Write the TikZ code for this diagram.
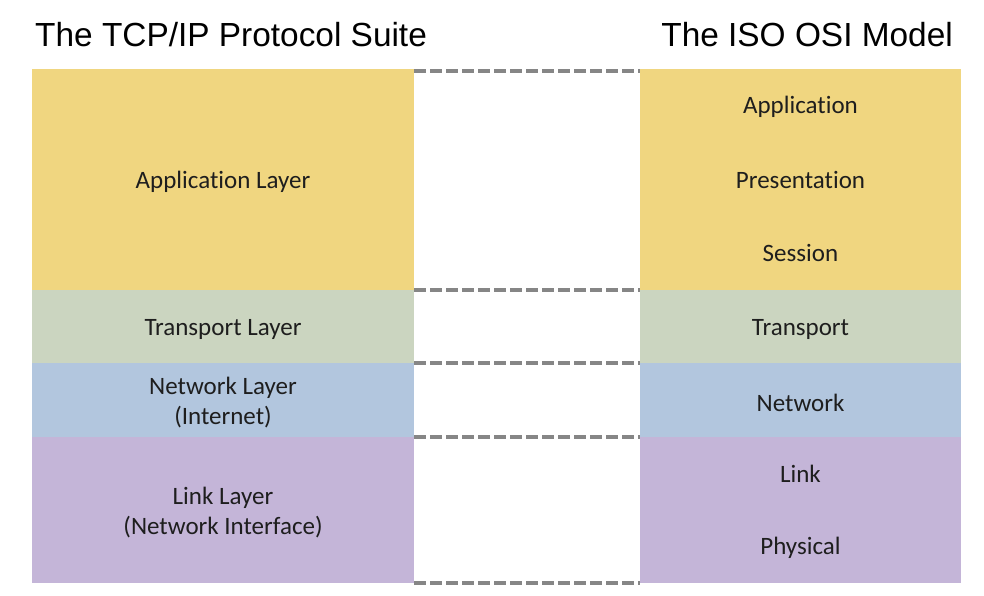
\documentclass[tikz,border=0pt]{standalone}
\usepackage{fontspec}
\setmainfont{Carlito}[RawFeature=-liga]
\newfontfamily\titlefont{Liberation Sans}
\usepackage{tikz}
\usetikzlibrary{calc}
\definecolor{appyellow}{RGB}{240,214,128}
\definecolor{transgreen}{RGB}{203,213,192}
\definecolor{netblue}{RGB}{178,198,222}
\definecolor{linkpurple}{RGB}{196,181,216}
\definecolor{txtgray}{RGB}{30,30,30}
\tikzstyle{lay} = [rectangle, inner sep=0pt]
\tikzstyle{lbl} = [align=center, text=txtgray, yshift=-2.5pt, font=\fontsize{25}{29.5}\selectfont]
\tikzstyle{ttl} = [inner sep=0pt, font=\titlefont\fontsize{33.4}{38}\selectfont]
\tikzstyle{match} = [draw=gray!95, line width=3.5pt, dash pattern=on 11.5pt off 4.5pt]

\begin{document}
\begin{tikzpicture}[x=1pt,y=-1pt]
				\useasboundingbox (0,0) rectangle (984,596);
				\node[ttl, anchor=base west] (tcp) at (35,47) {The TCP/IP Protocol Suite};
				\node[ttl, anchor=base east] (osi) at (953,47) {The ISO OSI Model};
				%%%%%%%%%%%%%%%%%%%%%%%%%%%%%%%%%%
				\node[lay, fill=appyellow, minimum width=382pt, minimum height=221pt] (tapp) at (223,179.5) {};
				\node[lay, fill=transgreen, minimum width=382pt, minimum height=73pt] (ttrans) at (223,326.5) {};
				\node[lay, fill=netblue, minimum width=382pt, minimum height=74pt] (tnet) at (223,400) {};
				\node[lay, fill=linkpurple, minimum width=382pt, minimum height=146pt] (tlink) at (223,510) {};
				\node[lbl] (tappl) at (tapp) {Application Layer};
				\node[lbl] (ttransl) at (ttrans) {Transport Layer};
				\node[lbl] (tnetl) at (tnet) {Network Layer\\(Internet)};
				\node[lbl] (tlinkl) at (tlink) {Link Layer\\(Network Interface)};
				%%%%%%%%%%%%%%%%%%%%%%%%%%%%%%%%%%
				\node[lay, fill=appyellow, minimum width=321pt, minimum height=221pt] (oapp) at (800.5,179.5) {};
				\node[lay, fill=transgreen, minimum width=321pt, minimum height=73pt] (otrans) at (800.5,326.5) {};
				\node[lay, fill=netblue, minimum width=321pt, minimum height=74pt] (onet) at (800.5,400) {};
				\node[lay, fill=linkpurple, minimum width=321pt, minimum height=146pt] (olink) at (800.5,510) {};
				\node[lbl] (oapl) at (800.5,104) {Application};
				\node[lbl] (opres) at (800.5,177.5) {Presentation};
				\node[lbl] (osess) at (800.5,250.5) {Session};
				\node[lbl] (otransl) at (otrans) {Transport};
				\node[lbl] (onetl) at (onet) {Network};
				\node[lbl] (olnk) at (800.5,471.5) {Link};
				\node[lbl] (ophy) at (800.5,545.5) {Physical};
				%%%%%%%%%%%%%%%%%%%%%%%%%%%%%%%%%%
				\draw[match] ($(tapp.north east)+(0,2)$) -- ($(oapp.north west)+(0,2)$);
				\draw[match] (tapp.south east) -- (oapp.south west);
				\draw[match] (ttrans.south east) -- (otrans.south west);
				\draw[match] (tnet.south east) -- (onet.south west);
				\draw[match] (tlink.south east) -- (olink.south west);
			\end{tikzpicture}
\end{document}
